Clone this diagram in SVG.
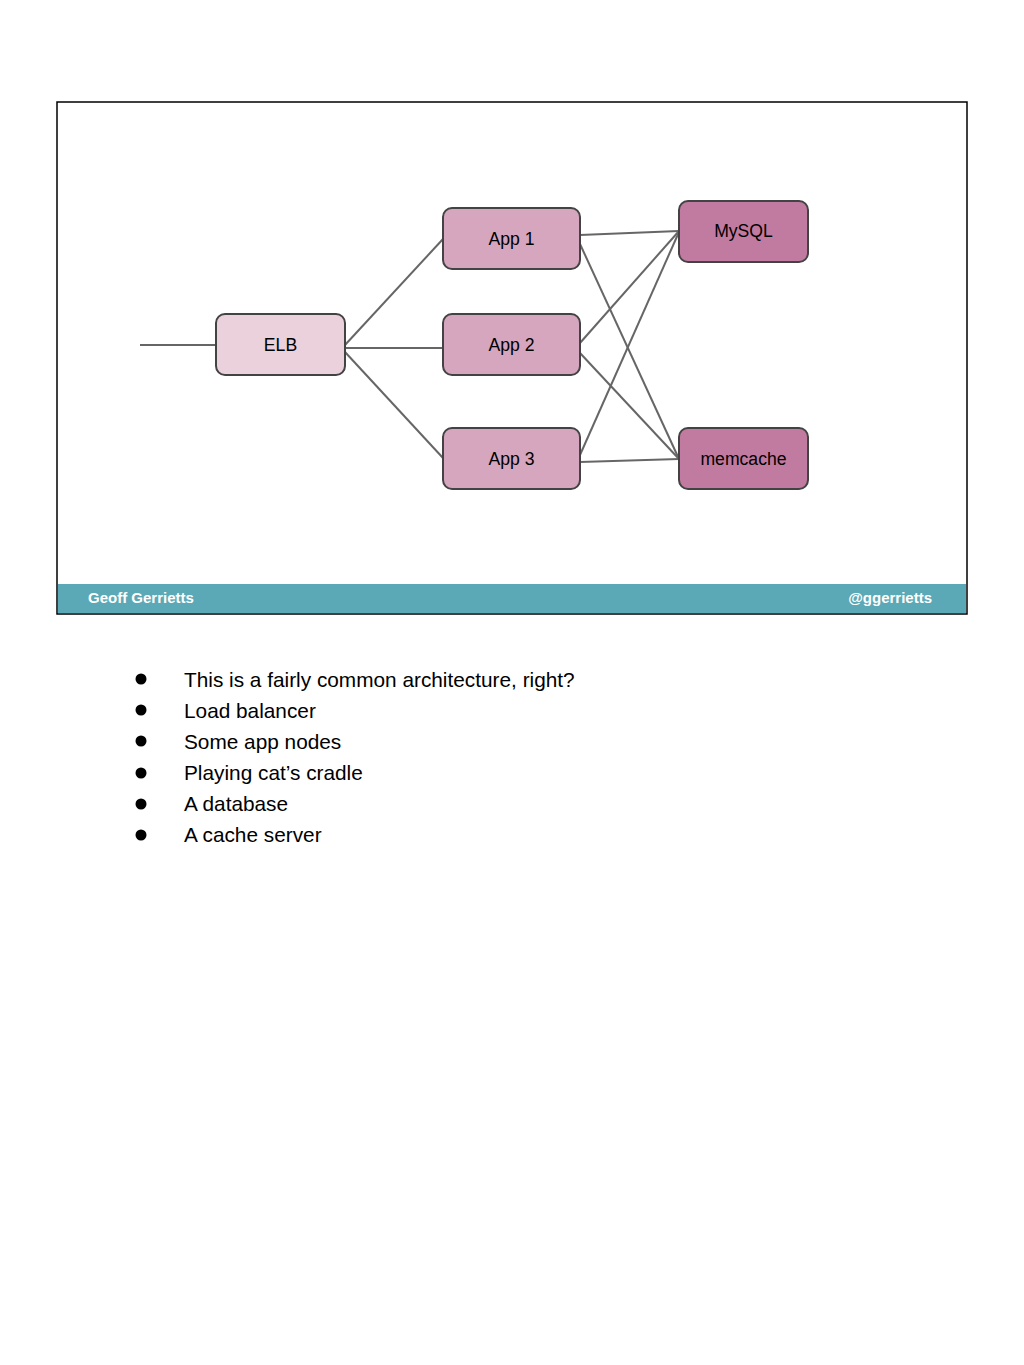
<svg xmlns="http://www.w3.org/2000/svg" width="1024" height="1365" viewBox="0 0 1024 1365">
<style>
.node rect{stroke:#434343;stroke-width:2}
.lbl{font-family:"Liberation Sans",Arial,sans-serif;font-size:17.6px;fill:#000;text-anchor:middle}
.conn line{stroke:#666;stroke-width:2}
.foot{font-family:"Liberation Sans",Arial,sans-serif;font-size:15px;font-weight:bold;fill:#fff}
.bul{font-family:"Liberation Sans",Arial,sans-serif;font-size:20.8px;fill:#000}
</style>
<rect width="1024" height="1365" fill="#fff"/>
<g id="frame">
<rect x="57" y="102" width="910" height="512" fill="#fff" stroke="#000" stroke-width="1.5"/>
<rect x="58" y="584" width="908" height="29" fill="#5ba8b6"/>
<text class="foot" x="88" y="603">Geoff Gerrietts</text>
<text class="foot" x="932" y="603" text-anchor="end">@ggerrietts</text>
</g>
<g id="connectors" class="conn">
<line x1="140" y1="345" x2="216" y2="345"/>
<line x1="345" y1="345" x2="443" y2="239"/>
<line x1="345" y1="348" x2="443" y2="348"/>
<line x1="345" y1="352" x2="443" y2="458"/>
<line x1="580" y1="235" x2="679" y2="231"/>
<line x1="580" y1="244" x2="679" y2="459"/>
<line x1="580" y1="343" x2="679" y2="231"/>
<line x1="580" y1="353" x2="679" y2="459"/>
<line x1="580" y1="455" x2="679" y2="232"/>
<line x1="580" y1="462" x2="679" y2="459"/>
</g>
<g id="elb" class="node"><rect x="216" y="314" width="129" height="61" rx="9" fill="#ead1dc"/><text class="lbl" x="280.5" y="351">ELB</text></g>
<g id="app1" class="node"><rect x="443" y="208" width="137" height="61" rx="9" fill="#d5a6bd"/><text class="lbl" x="511.5" y="245">App 1</text></g>
<g id="app2" class="node"><rect x="443" y="314" width="137" height="61" rx="9" fill="#d5a6bd"/><text class="lbl" x="511.5" y="351">App 2</text></g>
<g id="app3" class="node"><rect x="443" y="428" width="137" height="61" rx="9" fill="#d5a6bd"/><text class="lbl" x="511.5" y="465">App 3</text></g>
<g id="mysql" class="node"><rect x="679" y="201" width="129" height="61" rx="9" fill="#c27ba0"/><text class="lbl" x="743.5" y="237">MySQL</text></g>
<g id="memcache" class="node"><rect x="679" y="428" width="129" height="61" rx="9" fill="#c27ba0"/><text class="lbl" x="743.5" y="465">memcache</text></g>
<g id="bullets">
<circle cx="141" cy="679" r="5.5"/><text class="bul" x="184" y="687">This is a fairly common architecture, right?</text>
<circle cx="141" cy="710" r="5.5"/><text class="bul" x="184" y="718">Load balancer</text>
<circle cx="141" cy="741" r="5.5"/><text class="bul" x="184" y="749">Some app nodes</text>
<circle cx="141" cy="773" r="5.5"/><text class="bul" x="184" y="780">Playing cat’s cradle</text>
<circle cx="141" cy="804" r="5.5"/><text class="bul" x="184" y="811">A database</text>
<circle cx="141" cy="835" r="5.5"/><text class="bul" x="184" y="842">A cache server</text>
</g>
</svg>
